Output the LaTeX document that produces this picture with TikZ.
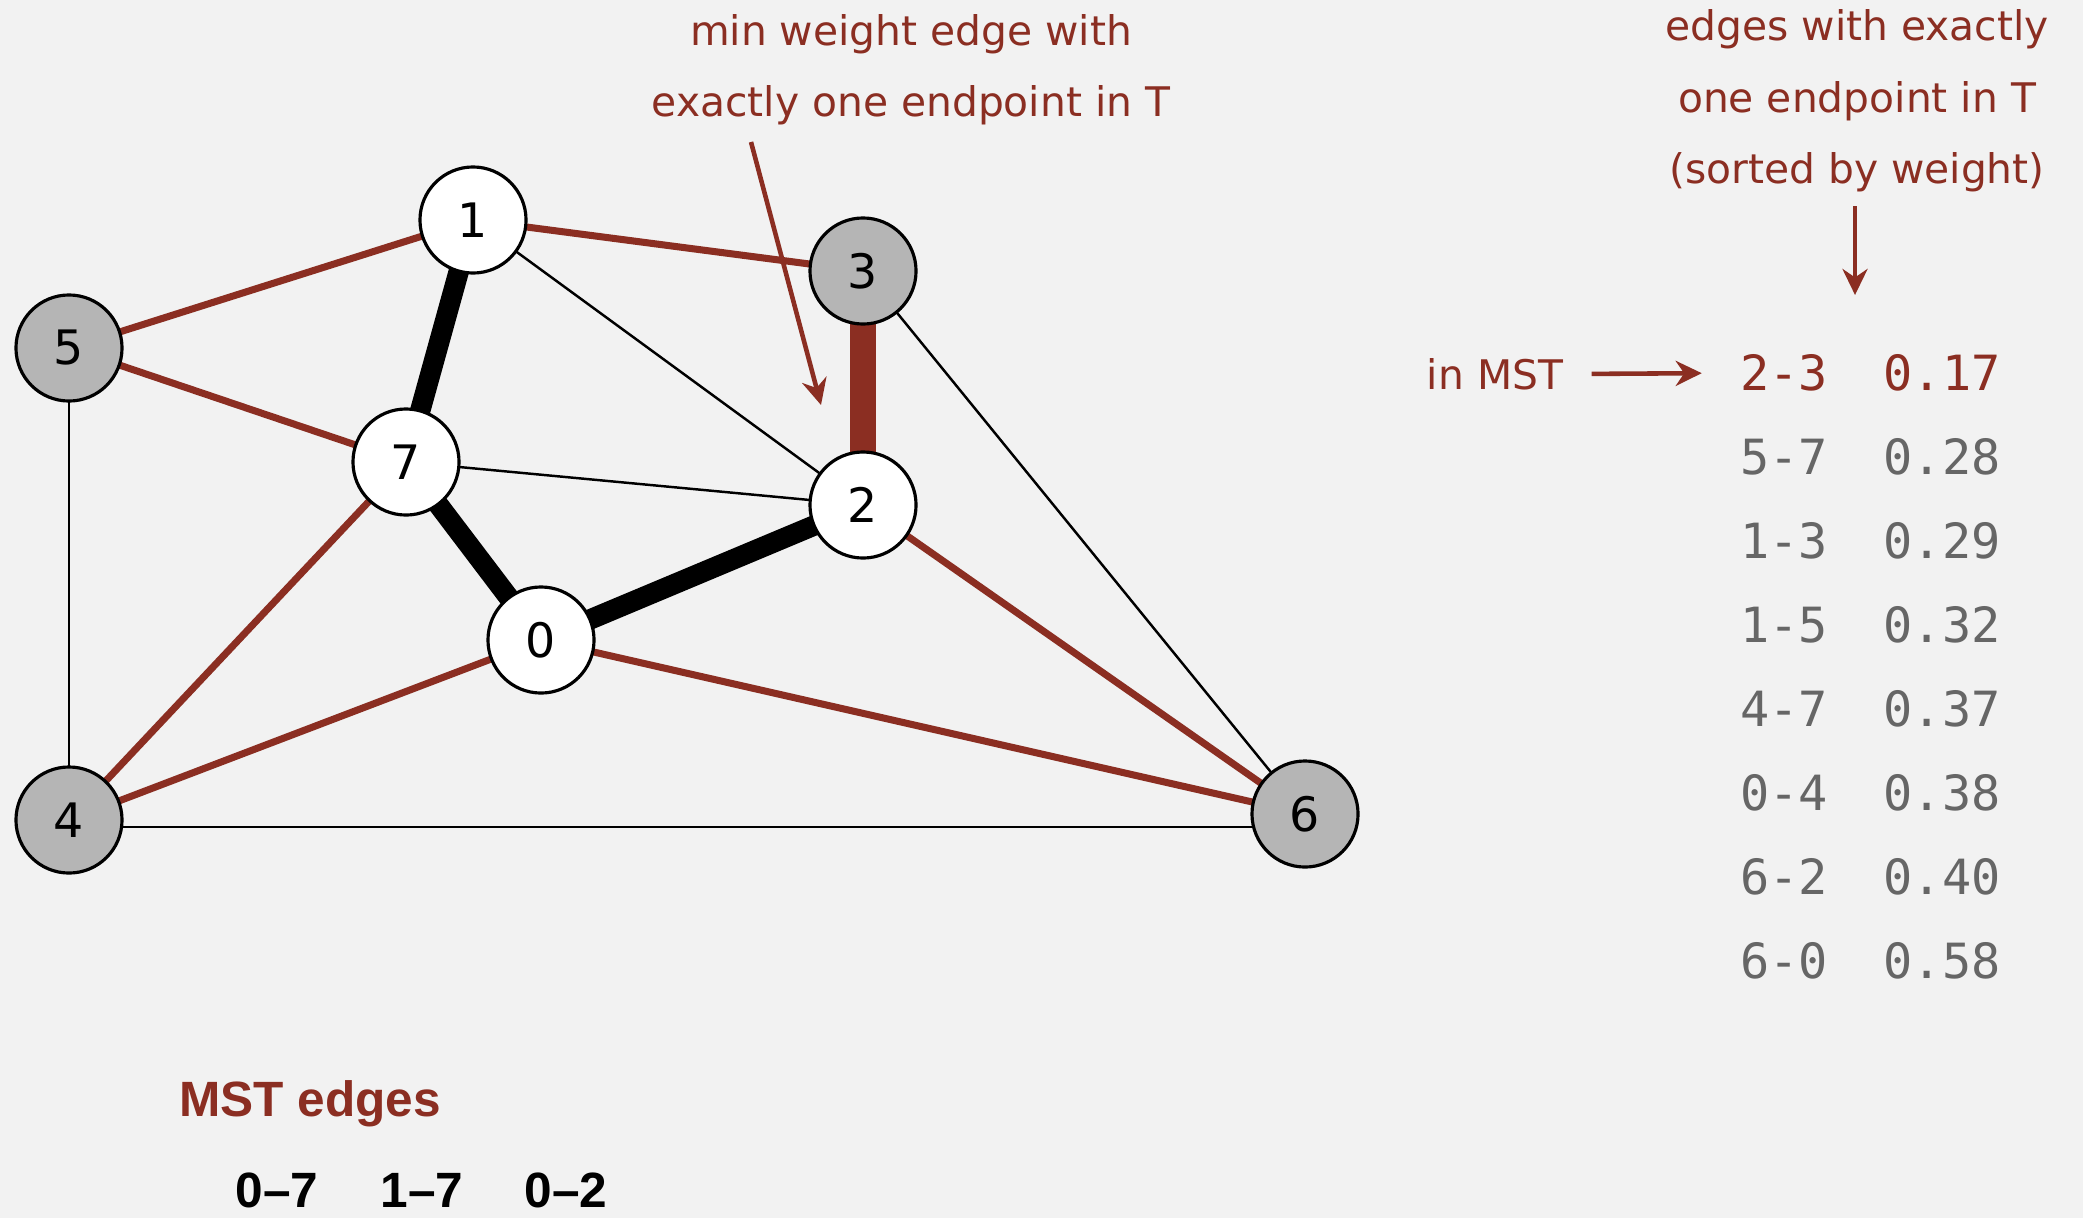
\documentclass[tikz,border=0pt]{standalone}
\usepackage{fontspec}
\setmainfont{DejaVu Sans}
\newfontfamily\tablefont{DejaVu Sans Mono}
\newfontfamily\headfont{Liberation Sans}
\usepackage{xcolor}
\usepackage{tikz}
\usetikzlibrary{arrows.meta,backgrounds}
\definecolor{FigureRed}{HTML}{8B2E22}
\definecolor{FigureGray}{gray}{0.40}
\definecolor{NodeGray}{gray}{0.71}
\definecolor{PanelFill}{gray}{0.95}

\begin{document}
\begin{tikzpicture}[
  x=0.01cm,y=-0.01cm,
  >={Stealth[length=0.26cm,width=0.25cm]},
  vertex/.style={circle,draw=black,line width=0.9pt,minimum size=1.06cm,inner sep=0pt,
                 font=\fontsize{13.5}{13.5}\selectfont},
  thinedge/.style={black,line width=0.7pt},
  cutedge/.style={FigureRed,line width=2pt},
  treeedge/.style={black,line width=5.8pt},
  pickedge/.style={FigureRed,line width=7.6pt},
  note/.style={FigureRed,align=center,font=\fontsize{11.6}{20.3}\selectfont},
  pointer/.style={->,FigureRed,line width=1.3pt},
  weightcell/.style={font=\tablefont\fontsize{13.8}{14}\selectfont},
  mstcell/.style={font=\headfont\bfseries\fontsize{14.1}{16}\selectfont},
]
  \useasboundingbox (0,0) rectangle (2083,1218);

  \foreach \n/\x/\y/\tone in {0/541/640/white,1/473/220/white,2/863/505/white,
      3/863/271/NodeGray,4/69/820/NodeGray,5/69/348/NodeGray,6/1305/814/NodeGray,7/406/462/white}
    \node[vertex,fill=\tone] (v\n) at (\x,\y) {\n};

  \begin{pgfonlayer}{background}
    \fill[PanelFill] (0,0) rectangle (2083,1218);
    \foreach \a/\b in {1/2,7/2,3/6,5/4}
      \draw[thinedge] (v\a.center) -- (v\b.center);
    \draw[thinedge] ([yshift=-0.07cm]v4.center) -- ([yshift=-0.07cm]v4.center -| v6.center);
    \foreach \a/\b in {1/3,1/5,5/7,7/4,0/4,0/6,2/6}
      \draw[cutedge] (v\a.center) -- (v\b.center);
    \foreach \a/\b in {1/7,7/0,0/2}
      \draw[treeedge] (v\a.center) -- (v\b.center);
    \draw[pickedge] (v2.center) -- (v3.center);
  \end{pgfonlayer}

  \node[note] (pickednote) at (911,70) {min weight edge with\\exactly one endpoint in T};
  \coordinate (pickedtail) at (751,142);
  \coordinate (pickedtip) at (821,405);
  \draw[pointer] (pickedtail) -- (pickedtip);

  \node[note] (sortednote) at (1857,101) {edges with exactly\\one endpoint in T\\(sorted by weight)};
  \coordinate (sortedtail) at (1855,206);
  \coordinate (sortedtip) at (1855,295);
  \draw[pointer] (sortedtail) -- (sortedtip);

  % crossing edges, lightest first
  \foreach \e/\w/\tone [count=\i from 0] in {2-3/0.17/FigureRed,5-7/0.28/FigureGray,
      1-3/0.29/FigureGray,1-5/0.32/FigureGray,4-7/0.37/FigureGray,0-4/0.38/FigureGray,
      6-2/0.40/FigureGray,6-0/0.58/FigureGray}{
    \node[weightcell,text=\tone] (e\i) at (1784,{373+84*\i}) {\e};
    \node[weightcell,text=\tone] (w\i) at (1942,{373+84*\i}) {\w};
  }
  \node[note] (inmst) at (1495,374) {in MST};
  \draw[pointer,shorten <=0.16cm,shorten >=0.26cm] (inmst.east) -- (e0.west);

  \node[mstcell,text=FigureRed] (mstlabel) at (310,1104) {MST edges};
  \foreach \e/\x in {0–7/277,1–7/422,0–2/566}
    \node[mstcell] (mst\x) at (\x,1190) {\e};
\end{tikzpicture}
\end{document}
